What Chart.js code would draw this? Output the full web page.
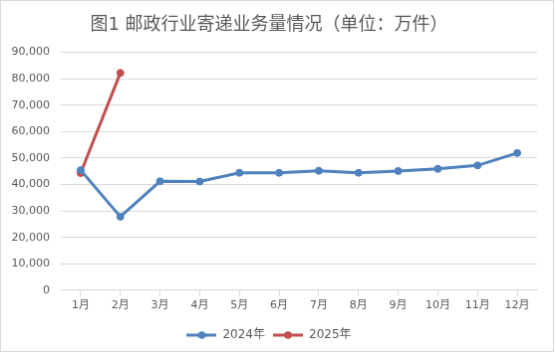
<!doctype html>
<html lang="zh">
<head>
<meta charset="UTF-8" />
<title>邮政行业寄递业务量情况</title>
<script src="https://cdn.jsdelivr.net/npm/chart.js"></script>
<style>
    body { margin: 0; background: #fff; }
    #chart { display: block; border: 1px solid #d9d9d9; }
</style>
</head>
<body>
<canvas id="chart" width="554" height="352"></canvas>
<script>
    // data (万件)
    const months = ['1月', '2月', '3月', '4月', '5月', '6月', '7月', '8月', '9月', '10月', '11月', '12月'];
    const y2024 = [45400, 27800, 41200, 41100, 44400, 44400, 45200, 44400, 45100, 45900, 47200, 51900];
    const y2025 = [44300, 82200];
    const seriesNames = ['2024年', '2025年'];
    const titleText = '图1 邮政行业寄递业务量情况（单位：万件）';

    const blue = '#4f81bd';
    const red = '#c0504d';
    const txt = '#595959';
    const fontFam = '"DejaVu Sans", "Noto Sans CJK SC", sans-serif';

    /* legend icon: short line with a dot */
    function legendIcon(color) {
        const c = document.createElement('canvas');
        c.width = 30; c.height = 10;
        const g = c.getContext('2d');
        g.strokeStyle = color;
        g.lineWidth = 3;
        g.beginPath(); g.moveTo(0, 5); g.lineTo(30, 5); g.stroke();
        g.fillStyle = color;
        g.beginPath(); g.arc(15, 5, 3.8, 0, Math.PI * 2); g.fill();
        return c;
    }
    const icons = [legendIcon(blue), legendIcon(red)];

    new Chart(document.getElementById('chart'), {
        type: 'line',
        data: {
            labels: months,
            datasets: [{
                label: seriesNames[0],
                data: y2024,
                borderColor: blue,
                backgroundColor: blue,
                borderWidth: 3,
                pointRadius: 3.5,
                pointBorderWidth: 1,
                pointHoverRadius: 3.5,
                tension: 0
            }, {
                label: seriesNames[1],
                data: y2025,
                borderColor: red,
                backgroundColor: red,
                borderWidth: 3,
                pointRadius: 3.5,
                pointBorderWidth: 1,
                pointHoverRadius: 3.5,
                tension: 0
            }]
        },
        options: {
            responsive: false,
            animation: false,
            layout: { padding: { left: 0, right: 16, top: 12, bottom: 0 } },
            plugins: {
                title: {
                    display: true,
                    text: titleText,
                    color: txt,
                    font: { family: fontFam, size: 18, weight: 'normal' },
                    padding: { top: 2, bottom: 16 }
                },
                legend: {
                    position: 'bottom',
                    labels: {
                        color: txt,
                        font: { family: fontFam, size: 12 },
                        usePointStyle: true,
                        pointStyleWidth: 30,
                        boxWidth: 30,
                        boxHeight: 10,
                        padding: 8,
                        generateLabels: function (chart) {
                            return chart.data.datasets.map(function (ds, i) {
                                return {
                                    text: ds.label,
                                    pointStyle: icons[i],
                                    fontColor: txt,
                                    datasetIndex: i,
                                    hidden: false,
                                    lineWidth: 0
                                };
                            });
                        }
                    }
                },
                tooltip: { enabled: false }
            },
            scales: {
                x: {
                    offset: true,
                    afterFit: function (s) { s.height += 6; },
                    grid: {
                        drawOnChartArea: false,
                        color: '#d9d9d9',
                        tickLength: 6
                    },
                    border: { color: '#d9d9d9' },
                    ticks: {
                        color: txt,
                        font: { family: fontFam, size: 11 },
                        padding: 3,
                        maxRotation: 0
                    }
                },
                y: {
                    min: 0,
                    max: 90000,
                    afterFit: function (s) { s.width = 60; },
                    grid: { color: '#d9d9d9', drawTicks: false },
                    border: { display: false },
                    ticks: {
                        stepSize: 10000,
                        color: txt,
                        padding: 11,
                        font: { family: fontFam, size: 11 },
                        callback: function (v) { return v.toLocaleString('en-US'); }
                    }
                }
            }
        }
    });
</script>
</body>
</html>
